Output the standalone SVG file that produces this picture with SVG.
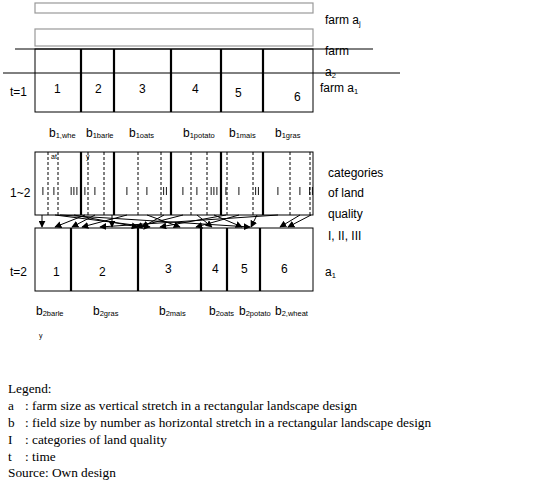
<svg xmlns="http://www.w3.org/2000/svg" width="550" height="483" viewBox="0 0 550 483">
<style>
.t{font-family:"Liberation Sans",Arial,sans-serif;font-size:12px;fill:#000}
.s{font-size:7.5px}
.r{font-family:"Liberation Sans",Arial,sans-serif;font-size:10px;fill:#000;text-anchor:middle}
.lg{font-family:"Liberation Serif","Times New Roman",serif;font-size:13.3px;fill:#000}
.box{fill:#fff;stroke:#000;stroke-width:1}
.gbox{fill:#fff;stroke:#999;stroke-width:1.2}
.div{stroke:#000;stroke-width:2.2}
.dash{stroke:#000;stroke-width:1;stroke-dasharray:3,2}
.ln{stroke:#000;stroke-width:1}
.ar{stroke:#000;stroke-width:1;fill:none;marker-end:url(#ah)}
</style>
<defs>
<marker id="ah" viewBox="0 0 10 10" refX="9" refY="5" markerWidth="7" markerHeight="7" orient="auto" markerUnits="userSpaceOnUse">
<path d="M0,0 L10,5 L0,10 z" fill="#000"/>
</marker>
<filter id="gray" x="0" y="0" width="1" height="1"><feOffset dx="0" dy="0"/></filter>
</defs>
<rect width="550" height="483" fill="#fff"/>

<g id="farm-aj">
<rect class="gbox" x="35" y="3" width="278" height="10"/>
<text class="t" x="163" y="32" style="font-size:8px">…</text>
<rect class="gbox" x="35" y="29" width="278" height="17"/>
<text class="t" x="325" y="24">farm a<tspan class="s" dy="2">j</tspan></text>
</g>

<g id="farm-a2">
<text class="t" x="325" y="55">farm</text>
<text class="t" x="325" y="76">a<tspan class="s" dy="2">2</tspan></text>
</g>

<g id="t1">
<rect class="box" x="35" y="49" width="278" height="63"/>
<line class="ln" x1="15" y1="49" x2="373" y2="49"/>
<line class="ln" x1="3" y1="73" x2="400" y2="73"/>
<line class="div" x1="81" y1="49" x2="81" y2="112"/>
<line class="div" x1="114" y1="49" x2="114" y2="112"/>
<line class="div" x1="171" y1="49" x2="171" y2="112"/>
<line class="div" x1="221" y1="49" x2="221" y2="112"/>
<line class="div" x1="263" y1="49" x2="263" y2="112"/>
<text class="t" x="10" y="96">t=1</text>
<text class="t" x="54" y="93">1</text>
<text class="t" x="95" y="93">2</text>
<text class="t" x="139" y="93">3</text>
<text class="t" x="192" y="93">4</text>
<text class="t" x="235" y="97">5</text>
<text class="t" x="294" y="101">6</text>
<text class="t" x="320" y="92">farm a<tspan class="s" dy="2">1</tspan></text>
<text class="t" x="49" y="137">b<tspan class="s" dy="1">1,whe</tspan></text>
<text class="t" x="86" y="137">b<tspan class="s" dy="1">1barle</tspan></text>
<text class="t" x="129" y="137">b<tspan class="s" dy="1">1oats</tspan></text>
<text class="t" x="183" y="137">b<tspan class="s" dy="1">1potato</tspan></text>
<text class="t" x="229" y="137">b<tspan class="s" dy="1">1mais</tspan></text>
<text class="t" x="275" y="137">b<tspan class="s" dy="1">1gras</tspan></text>
</g>

<g id="quality">
<rect class="box" x="35" y="152" width="278" height="63"/>
<line class="div" x1="81" y1="152" x2="81" y2="215"/>
<line class="div" x1="114" y1="152" x2="114" y2="215"/>
<line class="div" x1="171" y1="152" x2="171" y2="215"/>
<line class="div" x1="221" y1="152" x2="221" y2="215"/>
<line class="div" x1="263" y1="152" x2="263" y2="215"/>
<line class="dash" x1="48" y1="152" x2="48" y2="215"/>
<line class="dash" x1="58" y1="152" x2="58" y2="215"/>
<line class="dash" x1="88" y1="152" x2="88" y2="215"/>
<line class="dash" x1="104" y1="152" x2="104" y2="215"/>
<line class="dash" x1="138" y1="152" x2="138" y2="215"/>
<line class="dash" x1="161" y1="152" x2="161" y2="215"/>
<line class="dash" x1="191" y1="152" x2="191" y2="215"/>
<line class="dash" x1="207" y1="152" x2="207" y2="215"/>
<line class="dash" x1="227" y1="152" x2="227" y2="215"/>
<line class="dash" x1="253" y1="152" x2="253" y2="215"/>
<line class="dash" x1="290" y1="152" x2="290" y2="215"/>
<line class="dash" x1="310" y1="152" x2="310" y2="215"/>
<text class="t" x="51" y="159" style="font-size:7px">at</text>
<text class="t" x="86" y="159" style="font-size:7px">y</text>
<text class="t" x="10" y="197">1~2</text>
<g filter="url(#gray)">
<text class="r" x="43" y="195">I</text>
<text class="r" x="54" y="195">I</text>
<text class="r" x="74" y="195">III</text>
<text class="r" x="85" y="195">I</text>
<text class="r" x="95" y="195">I</text>
<text class="r" x="127" y="195">I</text>
<text class="r" x="147" y="195">I</text>
<text class="r" x="165" y="195">II</text>
<text class="r" x="183" y="195">I</text>
<text class="r" x="197" y="195">I</text>
<text class="r" x="214" y="195">III</text>
<text class="r" x="226" y="195">I</text>
<text class="r" x="239" y="195">I</text>
<text class="r" x="257" y="195">II</text>
<text class="r" x="278" y="195">I</text>
<text class="r" x="300" y="195">I</text>
<text class="r" x="311" y="195">II</text>
</g>
<text class="t" x="328" y="177">categories</text>
<text class="t" x="328" y="197">of land</text>
<text class="t" x="328" y="218">quality</text>
<text class="t" x="328" y="240">I, II, III</text>
</g>

<g id="t2">
<rect class="box" x="35" y="228" width="278" height="63"/>
<line class="div" x1="71" y1="228" x2="71" y2="291"/>
<line class="div" x1="138" y1="228" x2="138" y2="291"/>
<line class="div" x1="201" y1="228" x2="201" y2="291"/>
<line class="div" x1="227" y1="228" x2="227" y2="291"/>
<line class="div" x1="260" y1="228" x2="260" y2="291"/>
<text class="t" x="10" y="276">t=2</text>
<text class="t" x="53" y="276">1</text>
<text class="t" x="99" y="276">2</text>
<text class="t" x="165" y="273">3</text>
<text class="t" x="212" y="273">4</text>
<text class="t" x="241" y="273">5</text>
<text class="t" x="281" y="273">6</text>
<text class="t" x="325" y="276">a<tspan class="s" dy="2">1</tspan></text>
<text class="t" x="36" y="315">b<tspan class="s" dy="1">2barle</tspan></text>
<text class="t" x="93" y="315">b<tspan class="s" dy="1">2gras</tspan></text>
<text class="t" x="159" y="315">b<tspan class="s" dy="1">2mais</tspan></text>
<text class="t" x="209" y="315">b<tspan class="s" dy="1">2oats</tspan></text>
<text class="t" x="239" y="315">b<tspan class="s" dy="1">2potato</tspan></text>
<text class="t" x="275" y="315">b<tspan class="s" dy="1">2,wheat</tspan></text>
<text class="t" x="39" y="338" style="font-size:7px">y</text>
</g>

<g id="connectors">
<line class="ar" x1="42" y1="215" x2="42" y2="227"/>
<line class="ar" x1="55" y1="215" x2="150" y2="227"/>
<line class="ar" x1="74" y1="215" x2="138" y2="227"/>
<line class="ar" x1="60" y1="215" x2="250" y2="227"/>
<line class="ar" x1="85" y1="215" x2="55" y2="227"/>
<line class="ar" x1="95" y1="215" x2="72" y2="227"/>
<line class="ar" x1="112" y1="215" x2="112" y2="227"/>
<line class="ar" x1="127" y1="215" x2="82" y2="227"/>
<line class="ar" x1="147" y1="215" x2="180" y2="227"/>
<line class="ar" x1="164" y1="215" x2="142" y2="227"/>
<line class="ar" x1="183" y1="215" x2="136" y2="227"/>
<line class="ar" x1="197" y1="215" x2="212" y2="227"/>
<line class="ar" x1="214" y1="215" x2="242" y2="227"/>
<line class="ar" x1="226" y1="215" x2="160" y2="227"/>
<line class="ar" x1="239" y1="215" x2="196" y2="227"/>
<line class="ar" x1="257" y1="215" x2="251" y2="227"/>
<line class="ar" x1="278" y1="215" x2="100" y2="227"/>
<line class="ar" x1="300" y1="215" x2="280" y2="227"/>
<line class="ar" x1="311" y1="215" x2="288" y2="227"/>
</g>

<g id="legend">
<text class="lg" x="8" y="393">Legend:</text>
<text class="lg" x="8" y="410">a</text>
<text class="lg" x="25" y="410">: farm size as vertical stretch in a rectangular landscape design</text>
<text class="lg" x="8" y="427">b</text>
<text class="lg" x="25" y="427">: field size by number as horizontal stretch in a rectangular landscape design</text>
<text class="lg" x="8" y="444">I</text>
<text class="lg" x="25" y="444">: categories of land quality</text>
<text class="lg" x="8" y="461">t</text>
<text class="lg" x="25" y="461">: time</text>
<text class="lg" x="8" y="477">Source: Own design</text>
</g>
</svg>
